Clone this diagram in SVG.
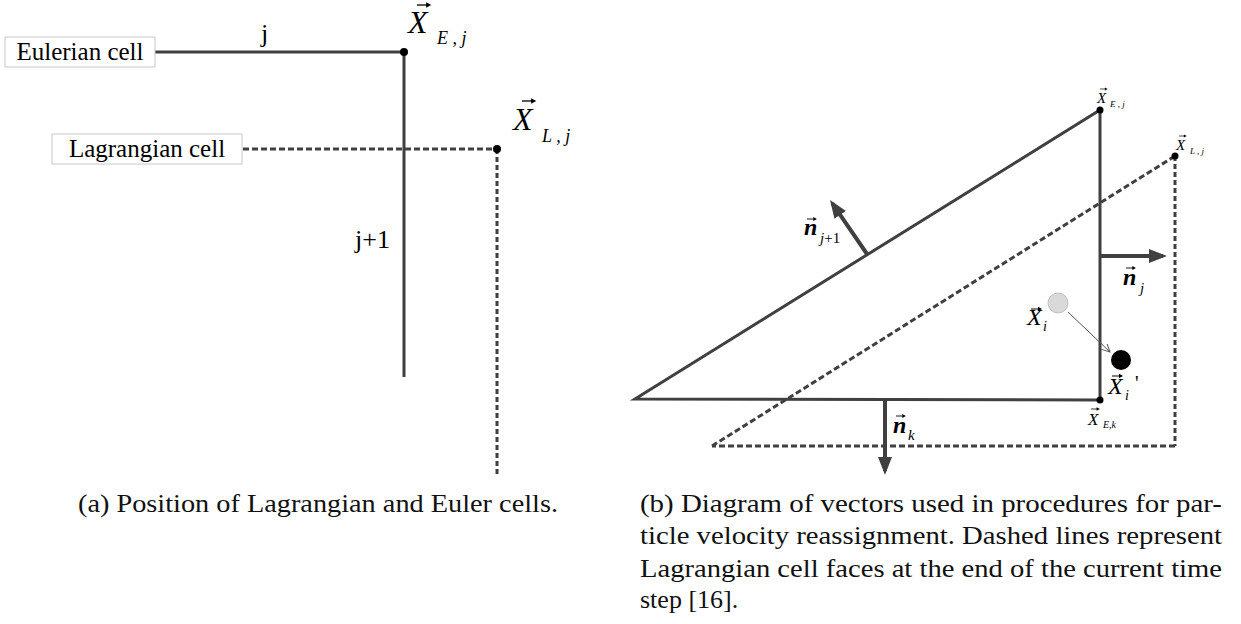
<svg xmlns="http://www.w3.org/2000/svg" xmlns:xlink="http://www.w3.org/1999/xlink" width="1241" height="624" viewBox="0 0 1241 624">
<style>
.ln{stroke:#404040;stroke-width:3;fill:none;stroke-linecap:butt}
.dash{stroke:#404040;stroke-width:3;fill:none;stroke-dasharray:6 3}
.vd{stroke:#404040;stroke-width:3;fill:none;stroke-dasharray:5 3}
.nrm{stroke:#404040;stroke-width:4;fill:none}
.box{fill:#fff;stroke:#c8c8c8;stroke-width:1}
.t{font-family:"Liberation Serif","Times New Roman",serif;fill:#000}
.it{font-family:"Liberation Serif","Times New Roman",serif;font-style:italic;fill:#000}
.nv{font-family:"Liberation Serif","Times New Roman",serif;font-style:italic;font-weight:bold;fill:#000}
.cap{font-family:"Liberation Serif","Times New Roman",serif;font-size:26px;fill:#111}
.dot{fill:#000}
</style>
<defs>
<marker id="ah" markerUnits="userSpaceOnUse" markerWidth="18" markerHeight="14" refX="14" refY="7" orient="auto"><path d="M0,0 L18,7 L0,14 Z" fill="#404040"/></marker>
<marker id="oh" markerUnits="userSpaceOnUse" markerWidth="10" markerHeight="10" refX="8" refY="4" orient="auto"><path d="M0,0 L8,4 L0,8" fill="none" stroke="#555" stroke-width="1"/></marker>
<g id="va"><path d="M0,0 H8" stroke="#000" stroke-width="1"/><path d="M7,-2.2 L11,0 L7,2.2 Z" fill="#000"/></g>
</defs>

<g id="connectors">
<path class="ln" d="M155,52 H404 V377"/>
<path class="dash" d="M243,149 H497"/>
<path class="vd" d="M497,149 V475"/>
<path class="ln" d="M635,399 L1100,110 L1100,400 Z"/>
<path class="dash" d="M712,446 L1175,156"/>
<path class="vd" d="M1175,156 V446"/>
<path class="dash" d="M1175,446 H712"/>
<line class="nrm" x1="867" y1="254" x2="832.3" y2="203.3" marker-end="url(#ah)"/>
<line class="nrm" x1="1100" y1="256" x2="1163" y2="256" marker-end="url(#ah)"/>
<line class="nrm" x1="885" y1="400" x2="885" y2="471" marker-end="url(#ah)"/>
<line x1="1068" y1="312" x2="1110" y2="352" stroke="#555" stroke-width="1" marker-end="url(#oh)"/>
</g>

<g id="eulerian-cell">
<rect class="box" x="5" y="37" width="150" height="30"/>
<text class="t" x="80" y="60" font-size="25" text-anchor="middle">Eulerian cell</text>
</g>
<g id="lagrangian-cell">
<rect class="box" x="52" y="134" width="190" height="30"/>
<text class="t" x="147" y="157" font-size="25" text-anchor="middle">Lagrangian cell</text>
</g>
<g id="face-labels">
<text class="t" x="261" y="42" font-size="26">j</text>
<text class="t" x="355" y="248" font-size="26">j+1</text>
</g>
<g id="XEj-left">
<circle class="dot" cx="404" cy="52" r="4"/>
<text class="it" x="408" y="33" font-size="32">X</text>
<use xlink:href="#va" transform="translate(417,5) scale(1.3)"/>
<text class="it" x="437" y="44" font-size="18">E , j</text>
</g>
<g id="XLj-left">
<circle class="dot" cx="497" cy="149" r="4"/>
<text class="it" x="513" y="130" font-size="32">X</text>
<use xlink:href="#va" transform="translate(522,101) scale(1.3)"/>
<text class="it" x="542" y="142" font-size="18">L , j</text>
</g>

<g id="XEj-right">
<circle class="dot" cx="1100" cy="110" r="3.5"/>
<text class="it" x="1097" y="103" font-size="15">X</text>
<use xlink:href="#va" transform="translate(1100,89) scale(0.7)"/>
<text class="it" x="1110" y="107" font-size="9">E , j</text>
</g>
<g id="XLj-right">
<circle class="dot" cx="1175" cy="156" r="3.5"/>
<text class="it" x="1176" y="150" font-size="15">X</text>
<use xlink:href="#va" transform="translate(1179,136) scale(0.7)"/>
<text class="it" x="1190" y="154" font-size="9">L , j</text>
</g>
<g id="XEk-right">
<circle class="dot" cx="1100" cy="400" r="3.5"/>
<text class="it" x="1088" y="425" font-size="17">X</text>
<use xlink:href="#va" transform="translate(1091,409) scale(0.8)"/>
<text class="it" x="1103" y="428" font-size="10">E,k</text>
</g>
<g id="nj1">
<text class="nv" x="804" y="235" font-size="24">n</text>
<use xlink:href="#va" transform="translate(807,219) scale(0.9)"/>
<text class="it" x="820" y="243" font-size="15">j<tspan font-style="normal">+1</tspan></text>
</g>
<g id="nj">
<text class="nv" x="1123" y="285" font-size="24">n</text>
<use xlink:href="#va" transform="translate(1126,268) scale(0.9)"/>
<text class="it" x="1140" y="293" font-size="15">j</text>
</g>
<g id="nk">
<text class="nv" x="893" y="433" font-size="24">n</text>
<use xlink:href="#va" transform="translate(896,416) scale(0.9)"/>
<text class="it" x="908" y="440" font-size="15">k</text>
</g>
<g id="particle-old">
<circle cx="1058" cy="303" r="10" fill="#d9d9d9" stroke="#c0c0c0" stroke-width="1"/>
<text class="it" x="1027" y="325" font-size="24">X</text>
<use xlink:href="#va" transform="translate(1031,309)"/>
<text class="it" x="1043" y="331" font-size="14">i</text>
</g>
<g id="particle-new">
<circle cx="1121" cy="360" r="10" fill="#000"/>
<text class="it" x="1108" y="394" font-size="24">X</text>
<use xlink:href="#va" transform="translate(1112,376)"/>
<text class="it" x="1125" y="400" font-size="14">i</text>
<text class="t" x="1135" y="390" font-size="20">'</text>
</g>

<g id="captions">
<text class="cap" x="78" y="512" textLength="480" lengthAdjust="spacingAndGlyphs">(a) Position of Lagrangian and Euler cells.</text>
<text class="cap" x="640" y="512" textLength="582" lengthAdjust="spacingAndGlyphs">(b) Diagram of vectors used in procedures for par-</text>
<text class="cap" x="640" y="544" textLength="582" lengthAdjust="spacingAndGlyphs">ticle velocity reassignment.  Dashed lines represent</text>
<text class="cap" x="640" y="577" textLength="582" lengthAdjust="spacingAndGlyphs">Lagrangian cell faces at the end of the current time</text>
<text class="cap" x="640" y="608">step [16].</text>
</g>
</svg>
